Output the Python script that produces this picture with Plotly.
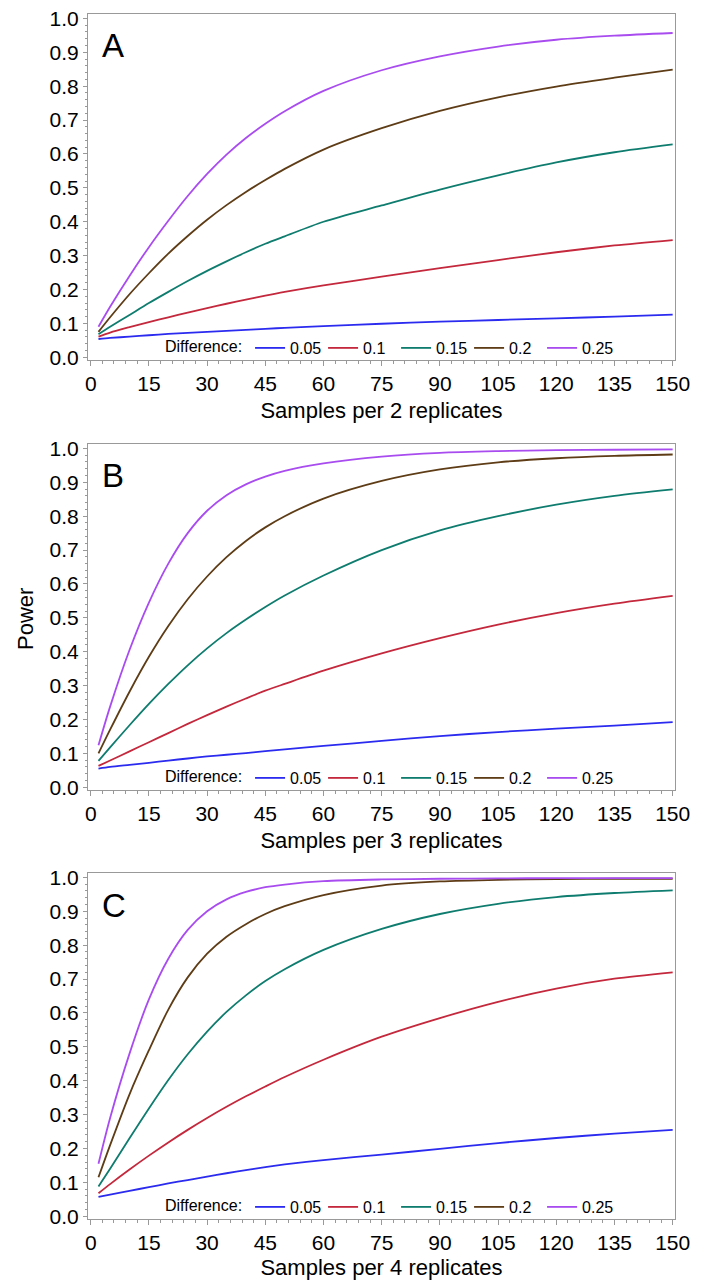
import plotly.graph_objects as go

# ---------------- data ----------------
x_samples = [2, 5, 10, 15, 20, 25, 30, 35, 40, 45, 50, 60, 75, 90, 105, 120, 135, 150]
differences = ["0.05", "0.1", "0.15", "0.2", "0.25"]
x_ticks = [0, 15, 30, 45, 60, 75, 90, 105, 120, 135, 150]
panel_letters = ["A", "B", "C"]
x_titles = ["Samples per 2 replicates", "Samples per 3 replicates", "Samples per 4 replicates"]

# Panel A (2 replicates)
a_005 = [0.054, 0.057, 0.061, 0.065, 0.069, 0.072, 0.075, 0.078, 0.081, 0.084, 0.087, 0.092, 0.099, 0.105, 0.110, 0.115, 0.120, 0.126]
a_010 = [0.061, 0.073, 0.089, 0.104, 0.118, 0.132, 0.145, 0.158, 0.170, 0.182, 0.193, 0.212, 0.238, 0.263, 0.287, 0.310, 0.330, 0.346]
a_015 = [0.068, 0.090, 0.125, 0.160, 0.193, 0.225, 0.255, 0.283, 0.310, 0.335, 0.357, 0.400, 0.448, 0.495, 0.537, 0.575, 0.605, 0.628]
a_020 = [0.075, 0.118, 0.186, 0.248, 0.306, 0.358, 0.406, 0.449, 0.488, 0.523, 0.556, 0.613, 0.676, 0.727, 0.767, 0.799, 0.825, 0.849]
a_025 = [0.090, 0.149, 0.240, 0.325, 0.403, 0.476, 0.541, 0.598, 0.647, 0.689, 0.726, 0.786, 0.847, 0.888, 0.917, 0.937, 0.949, 0.957]

# Panel B (3 replicates)
b_005 = [0.055, 0.060, 0.066, 0.072, 0.079, 0.085, 0.091, 0.096, 0.101, 0.107, 0.112, 0.122, 0.137, 0.151, 0.163, 0.173, 0.182, 0.192]
b_010 = [0.063, 0.079, 0.106, 0.133, 0.160, 0.187, 0.213, 0.238, 0.262, 0.285, 0.305, 0.344, 0.395, 0.440, 0.480, 0.514, 0.542, 0.565]
b_015 = [0.078, 0.118, 0.183, 0.246, 0.305, 0.360, 0.410, 0.455, 0.495, 0.532, 0.566, 0.625, 0.700, 0.758, 0.800, 0.834, 0.860, 0.879]
b_020 = [0.100, 0.170, 0.282, 0.385, 0.476, 0.555, 0.622, 0.679, 0.727, 0.767, 0.800, 0.852, 0.904, 0.938, 0.959, 0.971, 0.978, 0.982]
b_025 = [0.124, 0.238, 0.405, 0.545, 0.660, 0.750, 0.816, 0.862, 0.894, 0.917, 0.934, 0.956, 0.976, 0.987, 0.992, 0.995, 0.996, 0.997]

# Panel C (4 replicates)
c_005 = [0.057, 0.064, 0.075, 0.086, 0.097, 0.107, 0.117, 0.127, 0.136, 0.145, 0.153, 0.166, 0.182, 0.199, 0.216, 0.231, 0.244, 0.255]
c_010 = [0.068, 0.095, 0.138, 0.179, 0.218, 0.255, 0.290, 0.323, 0.354, 0.383, 0.411, 0.462, 0.530, 0.585, 0.633, 0.672, 0.701, 0.720]
c_015 = [0.088, 0.140, 0.230, 0.318, 0.402, 0.478, 0.545, 0.603, 0.652, 0.694, 0.729, 0.786, 0.848, 0.892, 0.922, 0.942, 0.954, 0.962]
c_020 = [0.115, 0.210, 0.360, 0.490, 0.610, 0.705, 0.775, 0.825, 0.862, 0.892, 0.915, 0.948, 0.976, 0.988, 0.993, 0.995, 0.996, 0.996]
c_025 = [0.155, 0.290, 0.480, 0.640, 0.760, 0.845, 0.900, 0.935, 0.957, 0.971, 0.979, 0.989, 0.994, 0.996, 0.997, 0.998, 0.998, 0.998]

panels = [
    [a_005, a_010, a_015, a_020, a_025],
    [b_005, b_010, b_015, b_020, b_025],
    [c_005, c_010, c_015, c_020, c_025],
]

# ---------------- style ----------------
colors = ["#2b2bf0", "#c4283c", "#0e7c6e", "#5e3c16", "#a94cef"]
FONT = "Liberation Sans, Arial, sans-serif"
W, H = 709, 1280
plot_left, plot_right = 88, 675
panel_tops = [14, 444, 873]
panel_h = 346
frame = "#999999"

fig = go.Figure()
legend_names = ["legend", "legend2", "legend3"]

for p, series in enumerate(panels):
    sfx = "" if p == 0 else str(p + 1)
    for d, vals in enumerate(series):
        fig.add_trace(go.Scatter(
            x=x_samples, y=vals, mode="lines", name=differences[d],
            line=dict(color=colors[d], width=1.8, shape="spline", smoothing=0.8),
            xaxis="x" + sfx, yaxis="y" + sfx, legend=legend_names[p],
            hoverinfo="skip",
        ))

layout = dict(
    width=W, height=H,
    margin=dict(l=0, r=0, t=0, b=0),
    paper_bgcolor="white", plot_bgcolor="white",
    font=dict(family=FONT, color="black"),
    showlegend=True,
    annotations=[],
)

for p in range(3):
    sfx = "" if p == 0 else str(p + 1)
    top = panel_tops[p]
    bottom = top + panel_h
    ydom = [1 - bottom / H, 1 - top / H]
    xdom = [plot_left / W, plot_right / W]
    layout["xaxis" + sfx] = dict(
        domain=xdom, anchor="y" + sfx, range=[-0.7, 150.6],
        tickmode="array", tickvals=x_ticks, ticktext=[str(v) for v in x_ticks],
        ticks="outside", ticklen=5, tickcolor=frame, tickwidth=1,
        minor=dict(tickmode="linear", tick0=0, dtick=3, ticks="outside", ticklen=3, tickcolor=frame),
        showline=True, linecolor=frame, linewidth=1, mirror=True,
        showgrid=False, zeroline=False, automargin=False,
        tickfont=dict(size=21, family=FONT, color="black"),
        title=dict(text=x_titles[p], font=dict(size=22, family=FONT, color="black"), standoff=8),
    )
    layout["yaxis" + sfx] = dict(
        domain=ydom, anchor="x" + sfx, range=[-0.008, 1.013],
        tickmode="linear", tick0=0, dtick=0.1, tickformat=".1f",
        ticks="outside", ticklen=4, tickcolor=frame, tickwidth=1,
        minor=dict(tickmode="linear", tick0=0, dtick=0.02, ticks="outside", ticklen=2, tickcolor=frame),
        showline=True, linecolor=frame, linewidth=1, mirror=True,
        showgrid=False, zeroline=False, automargin=False,
        tickfont=dict(size=21, family=FONT, color="black"),
    )
    legy = 1 - (top + 334) / H
    layout[legend_names[p]] = dict(
        orientation="h", x=163 / W, y=legy, xanchor="left", yanchor="middle",
        xref="paper", yref="paper",
        title=dict(text="Difference:", side="left", font=dict(size=16, family=FONT, color="black")),
        font=dict(size=16, family=FONT, color="black"),
        bgcolor="rgba(0,0,0,0)", borderwidth=0,
        itemwidth=30, entrywidth=28, entrywidthmode="pixels",
        itemclick=False, itemdoubleclick=False,
    )
    layout["annotations"].append(dict(
        text=panel_letters[p], x=100 / W, y=1 - (top + 32) / H,
        xref="paper", yref="paper", xanchor="left", yanchor="middle",
        showarrow=False, font=dict(size=33, family=FONT, color="black"),
    ))

layout["annotations"].append(dict(
    text="Power", x=25 / W, y=1 - 619 / H, xref="paper", yref="paper",
    xanchor="center", yanchor="middle", textangle=-90, showarrow=False,
    font=dict(size=22, family=FONT, color="black"),
))

fig.update_layout(**layout)
fig.write_html("out.html")
